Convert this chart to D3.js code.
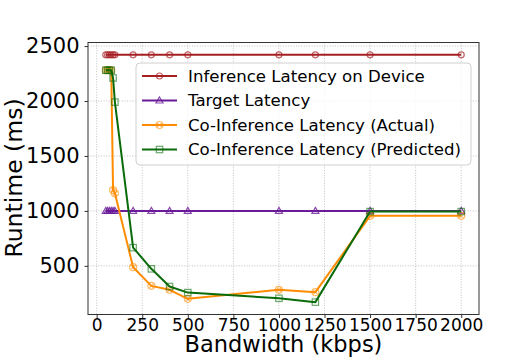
<!DOCTYPE html>
<html>
<head>
<meta charset="utf-8">
<script src="https://cdn.jsdelivr.net/npm/d3@7"></script>
<style>
  body { margin: 0; background: #fff; }
  text { font-family: "DejaVu Sans", sans-serif; }
</style>
</head>
<body>
<svg id="chart" width="532" height="360"></svg>
<script>
// datos
const bandwidth = [50, 60, 70, 80, 90, 100, 200, 300, 400, 500, 1000, 1200, 1500, 2000];
const deviceLatency = [2420, 2420, 2420, 2420, 2420, 2420, 2420, 2420, 2420, 2420, 2420, 2420, 2420, 2420];
const targetLatency = [1000, 1000, 1000, 1000, 1000, 1000, 1000, 1000, 1000, 1000, 1000, 1000, 1000, 1000];
const actualLatency = [2280, 2280, 2280, 2280, 1190, 1160, 488, 318, 282, 200, 282, 261, 955, 955];
const predictedLatency = [2280, 2280, 2280, 2280, 2210, 1990, 666, 473, 312, 257, 205, 170, 994, 994];
const xTicks = [0, 250, 500, 750, 1000, 1250, 1500, 1750, 2000];
const yTicks = [500, 1000, 1500, 2000, 2500];
const seriesNames = ["Inference Latency on Device", "Target Latency", "Co-Inference Latency (Actual)", "Co-Inference Latency (Predicted)"];

const svg = d3.select("#chart");
const plotLeft = 88, plotTop = 42.5, plotRight = 479, plotBottom = 314.5;

const x = d3.scaleLinear().domain([-47.5, 2097.5]).range([plotLeft, plotRight]);
const y = d3.scaleLinear().domain([57.5, 2532.5]).range([plotBottom, plotTop]);

const series = [
  { name: seriesNames[0], values: deviceLatency, color: "#a51e22", marker: "circle" },
  { name: seriesNames[1], values: targetLatency, color: "#6a1b9a", marker: "triangle" },
  { name: seriesNames[2], values: actualLatency, color: "#ff8c00", marker: "circlex" },
  { name: seriesNames[3], values: predictedLatency, color: "#0a6b0a", marker: "square" }
];

// grilla punteada
svg.append("g").selectAll("line").data(xTicks).join("line")
  .attr("x1", d => x(d)).attr("x2", d => x(d))
  .attr("y1", plotTop).attr("y2", plotBottom)
  .attr("stroke", "#b0b0b0").attr("stroke-width", 0.8).attr("stroke-dasharray", "1,1.6");
svg.append("g").selectAll("line").data(yTicks).join("line")
  .attr("y1", d => y(d)).attr("y2", d => y(d))
  .attr("x1", plotLeft).attr("x2", plotRight)
  .attr("stroke", "#b0b0b0").attr("stroke-width", 0.8).attr("stroke-dasharray", "1,1.6");

const drawMarker = (g, type, cx, cy, color) => {
  if (type === "circle") {
    g.append("circle").attr("cx", cx).attr("cy", cy).attr("r", 3)
      .attr("fill", "none").attr("stroke", color).attr("stroke-opacity", 0.7).attr("stroke-width", 1.2);
  } else if (type === "triangle") {
    g.append("path").attr("d", `M${cx},${cy - 3.5}L${cx + 3.5},${cy + 2.5}L${cx - 3.5},${cy + 2.5}Z`)
      .attr("fill", "none").attr("stroke", color).attr("stroke-opacity", 0.8).attr("stroke-width", 1.2);
  } else if (type === "circlex") {
    g.append("circle").attr("cx", cx).attr("cy", cy).attr("r", 3.5)
      .attr("fill", "none").attr("stroke", color).attr("stroke-opacity", 0.6).attr("stroke-width", 1.2);
    g.append("path").attr("d", `M${cx - 2.2},${cy - 2.2}L${cx + 2.2},${cy + 2.2}M${cx - 2.2},${cy + 2.2}L${cx + 2.2},${cy - 2.2}`)
      .attr("stroke", color).attr("stroke-opacity", 0.6).attr("stroke-width", 1.1);
  } else {
    g.append("rect").attr("x", cx - 3.2).attr("y", cy - 3.2).attr("width", 6.4).attr("height", 6.4)
      .attr("fill", "none").attr("stroke", color).attr("stroke-opacity", 0.6).attr("stroke-width", 1.2);
  }
};

const line = d3.line().x((d, i) => x(bandwidth[i])).y(d => y(d));

series.forEach(s => {
  const g = svg.append("g");
  g.append("path").datum(s.values).attr("d", line)
    .attr("fill", "none").attr("stroke", s.color).attr("stroke-width", 2).attr("stroke-linejoin", "round");
  s.values.forEach((v, i) => drawMarker(g, s.marker, x(bandwidth[i]), y(v), s.color));
});

// ejes
const axisX = d3.axisBottom(x).tickValues(xTicks).tickFormat(d3.format("d")).tickSize(3.5).tickPadding(0.5);
const axisY = d3.axisLeft(y).tickValues(yTicks).tickFormat(d3.format("d")).tickSize(3.5).tickPadding(5);

const gx = svg.append("g").attr("transform", `translate(0,${plotBottom})`).call(axisX);
gx.selectAll("text").attr("font-size", 17).attr("fill", "#000").attr("font-family", "DejaVu Sans");
const gy = svg.append("g").attr("transform", `translate(${plotLeft},0)`).call(axisY);
gy.selectAll("text").attr("font-size", 21).attr("fill", "#000").attr("font-family", "DejaVu Sans");
svg.selectAll(".domain").remove();
svg.selectAll(".tick line").attr("stroke", "#333");

svg.append("rect").attr("x", plotLeft).attr("y", plotTop)
  .attr("width", plotRight - plotLeft).attr("height", plotBottom - plotTop)
  .attr("fill", "none").attr("stroke", "#333").attr("stroke-width", 1);

// leyenda
const legend = svg.append("g");
legend.append("rect").attr("x", 136).attr("y", 63).attr("width", 335).attr("height", 102)
  .attr("rx", 4).attr("fill", "#fff").attr("fill-opacity", 0.8).attr("stroke", "#d0d0d0");
series.forEach((s, i) => {
  const ly = 76 + i * 24.5;
  legend.append("line").attr("x1", 142).attr("x2", 177).attr("y1", ly).attr("y2", ly)
    .attr("stroke", s.color).attr("stroke-width", 2);
  drawMarker(legend, s.marker, 159.5, ly, s.color);
  legend.append("text").attr("x", 188).attr("y", ly).attr("dy", "0.36em")
    .attr("font-size", 16.6).text(s.name);
});

// titulos de ejes
svg.append("text").attr("x", (plotLeft + plotRight) / 2).attr("y", 352)
  .attr("text-anchor", "middle").attr("font-size", 22.5).text("Bandwidth (kbps)");
svg.append("text").attr("transform", `translate(22,178) rotate(-90)`)
  .attr("text-anchor", "middle").attr("font-size", 23.5).text("Runtime (ms)");
</script>
</body>
</html>
